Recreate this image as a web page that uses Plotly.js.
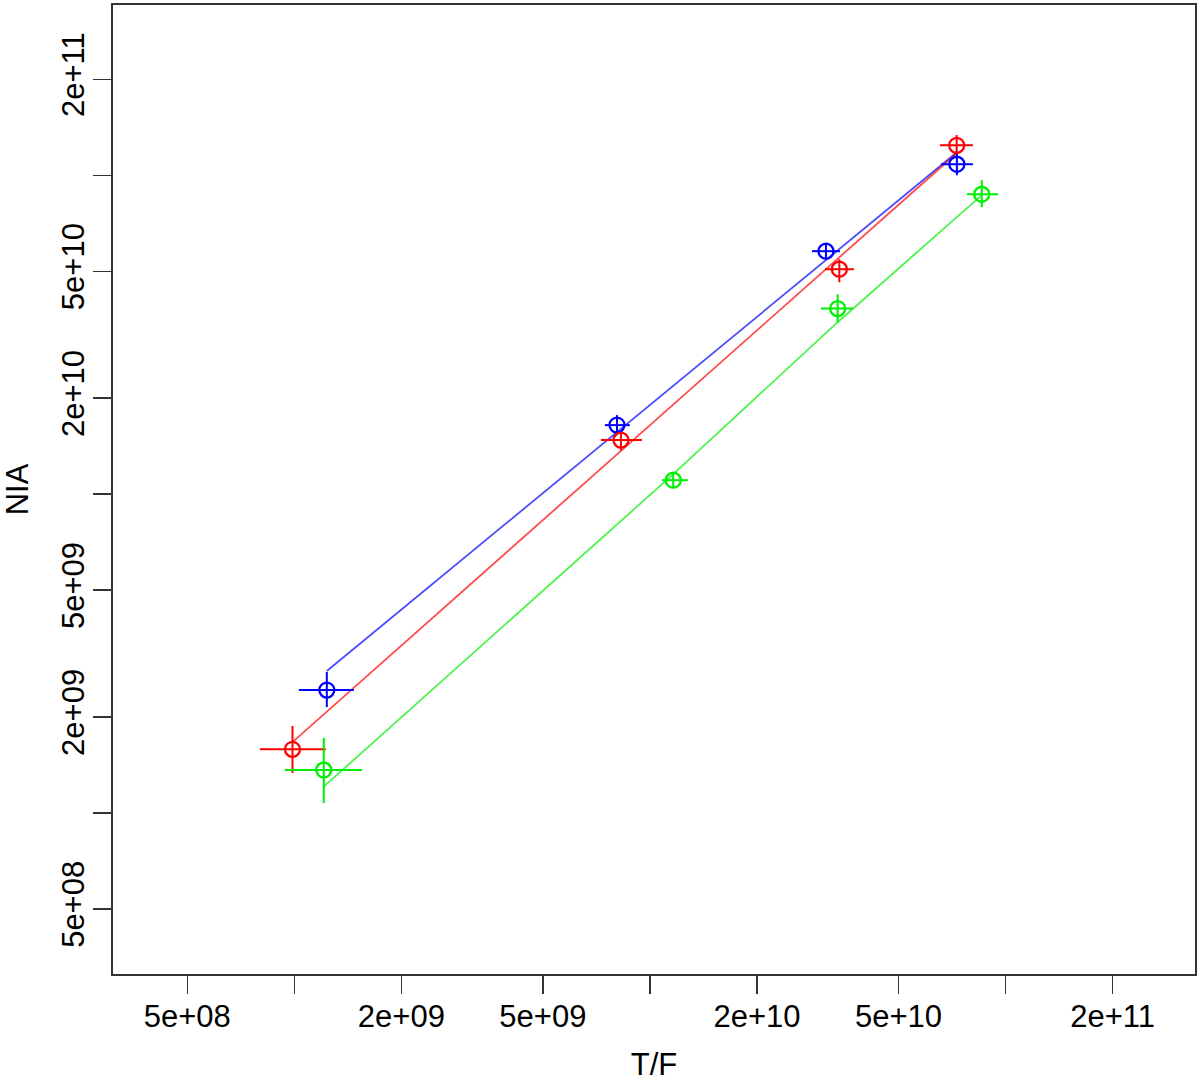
<!DOCTYPE html>
<html>
<head>
<meta charset="utf-8">
<script src="https://cdn.plot.ly/plotly-3.0.1.min.js"></script>
<style>html,body{margin:0;padding:0;background:#fff;}#chart{width:1200px;height:1082px;}</style>
</head>
<body>
<div id="chart"></div>
<script>
// ---- data ----
var seriesNames = ["blue", "red", "green"];
var seriesColors = ["#0000ff", "#ff0000", "#00ee00"];

var blueX     = [1.234e9, 8.08e9, 3.127e10, 7.30e10];
var blueY     = [2.43e9, 1.646e10, 5.78e10, 1.083e11];
var blueXLow  = [1.030e9, 7.47e9, 2.856e10, 6.59e10];
var blueXHigh = [1.470e9, 8.78e9, 3.424e10, 8.10e10];
var blueYLow  = [2.149e9, 1.531e10, 5.494e10, 1.0e11];
var blueYHigh = [2.767e9, 1.769e10, 6.12e10, 1.172e11];
var blueFit   = [2.787e9, 1.564e10, 5.413e10, 1.181e11];

var redX      = [9.88e8, 8.29e9, 3.41e10, 7.29e10];
var redY      = [1.584e9, 1.477e10, 5.074e10, 1.2416e11];
var redXLow   = [8.0e8, 7.28e9, 3.107e10, 6.54e10];
var redXHigh  = [1.226e9, 9.50e9, 3.748e10, 8.10e10];
var redYLow   = [1.335e9, 1.373e10, 4.62e10, 1.174e11];
var redYHigh  = [1.874e9, 1.564e10, 5.455e10, 1.337e11];
var redFit    = [1.669e9, 1.3636e10, 5.534e10, 1.172e11];

var greenX     = [1.21e9, 1.163e10, 3.373e10, 8.576e10];
var greenY     = [1.364e9, 1.106e10, 3.82e10, 8.72e10];
var greenXLow  = [9.40e8, 1.081e10, 3.027e10, 7.795e10];
var greenXHigh = [1.549e9, 1.279e10, 3.724e10, 9.527e10];
var greenYLow  = [1.075e9, 1.052e10, 3.461e10, 7.94e10];
var greenYHigh = [1.719e9, 1.164e10, 4.236e10, 9.65e10];
var greenFit   = [1.209e9, 1.155e10, 3.461e10, 8.66e10];

var xTickVals = [5e8, 1e9, 2e9, 5e9, 1e10, 2e10, 5e10, 1e11, 2e11];
var xTickText = ["5e+08", "", "2e+09", "5e+09", "", "2e+10", "5e+10", "", "2e+11"];
var yTickVals = [5e8, 1e9, 2e9, 5e9, 1e10, 2e10, 5e10, 1e11, 2e11];
var yTickText = ["5e+08", "", "2e+09", "5e+09", "", "2e+10", "5e+10", "", "2e+11"];

var xTitle = "T/F";
var yTitle = "NIA";

// ---- build traces ----
var sets = [
  {x: blueX, y: blueY, xl: blueXLow, xh: blueXHigh, yl: blueYLow, yh: blueYHigh, fit: blueFit},
  {x: redX, y: redY, xl: redXLow, xh: redXHigh, yl: redYLow, yh: redYHigh, fit: redFit},
  {x: greenX, y: greenY, xl: greenXLow, xh: greenXHigh, yl: greenYLow, yh: greenYHigh, fit: greenFit}
];

var traces = [];
sets.forEach(function (s, i) {
  var c = seriesColors[i];
  traces.push({
    x: s.x, y: s.fit, mode: "lines", type: "scatter",
    line: {color: c, width: 1.8}, opacity: 0.7,
    hoverinfo: "skip", showlegend: false, name: seriesNames[i] + " fit"
  });
});
sets.forEach(function (s, i) {
  var c = seriesColors[i];
  traces.push({
    x: s.x, y: s.y, mode: "markers", type: "scatter",
    marker: {symbol: "circle-open", size: 15, color: c, line: {color: c, width: 2.3}},
    error_x: {type: "data", symmetric: false,
      array: s.xh.map(function (v, k) { return v - s.x[k]; }),
      arrayminus: s.xl.map(function (v, k) { return s.x[k] - v; }),
      color: c, thickness: 2, width: 0},
    error_y: {type: "data", symmetric: false,
      array: s.yh.map(function (v, k) { return v - s.y[k]; }),
      arrayminus: s.yl.map(function (v, k) { return s.y[k] - v; }),
      color: c, thickness: 2, width: 0},
    showlegend: false, name: seriesNames[i]
  });
});

var tickFont = {family: "Liberation Sans, Arial, sans-serif", size: 31, color: "#000"};

var layout = {
  width: 1200, height: 1082,
  paper_bgcolor: "#fff", plot_bgcolor: "#fff",
  margin: {l: 113, r: 5, t: 5, b: 108, pad: 0},
  showlegend: false,
  xaxis: {
    type: "log", range: [8.490, 11.533], autorange: false,
    tickmode: "array", tickvals: xTickVals, ticktext: xTickText,
    ticks: "outside", ticklen: 18, tickwidth: 1.5, tickcolor: "#333",
    showline: true, mirror: true, linecolor: "#333", linewidth: 2,
    showgrid: false, zeroline: false, automargin: false,
    tickfont: tickFont, tickangle: 0, ticklabelstandoff: -4,
    title: {text: xTitle, font: tickFont, standoff: 33}
  },
  yaxis: {
    type: "log", range: [8.495, 11.534], autorange: false,
    tickmode: "array", tickvals: yTickVals, ticktext: yTickText,
    ticks: "outside", ticklen: 18, tickwidth: 1.5, tickcolor: "#333",
    showline: true, mirror: true, linecolor: "#333", linewidth: 2,
    showgrid: false, zeroline: false, automargin: false,
    tickfont: tickFont, tickangle: -90, ticklabelstandoff: -3,
    title: {text: yTitle, font: tickFont, standoff: 20}
  }
};

Plotly.newPlot("chart", traces, layout, {displayModeBar: false, staticPlot: true});
</script>
</body>
</html>
